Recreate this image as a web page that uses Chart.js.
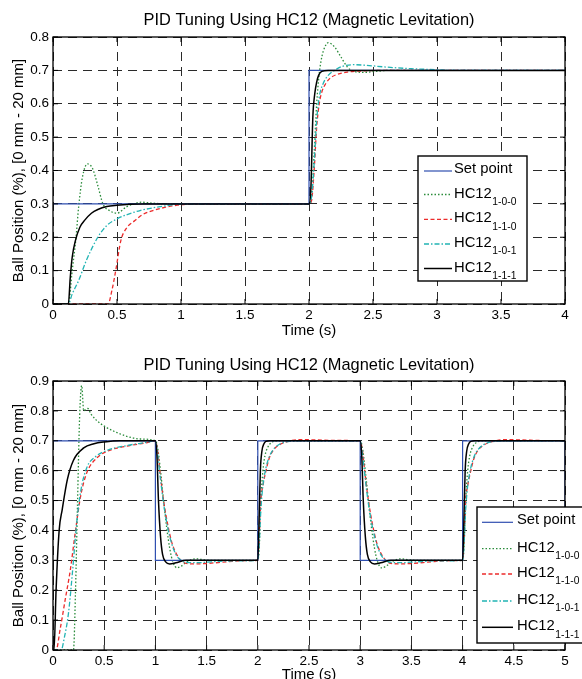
<!DOCTYPE html>
<html>
<head>
<meta charset="utf-8">
<script src="https://cdn.jsdelivr.net/npm/chart.js@4.4.0/dist/chart.umd.min.js"></script>
<style>
  html, body { margin: 0; padding: 0; background: #fff; overflow: hidden; }
  .panel { position: absolute; left: 0; width: 582px; }
  #panel-top { top: 0; height: 340px; }
  #panel-bot { top: 340px; height: 349px; }
</style>
</head>
<body>
<div class="panel" id="panel-top"><canvas id="chart-top" width="582" height="340"></canvas></div>
<div class="panel" id="panel-bot"><canvas id="chart-bot" width="582" height="349"></canvas></div>
<script>
// ---- text ----
const CHART_TITLE = 'PID Tuning Using HC12 (Magnetic Levitation)';
const X_TITLE = 'Time (s)';
const Y_TITLE = 'Ball Position (%), [0 mm - 20 mm]';
const seriesNames = ['Set point', 'HC12', 'HC12', 'HC12', 'HC12'];
const seriesSubs = ['', '1-0-0', '1-1-0', '1-0-1', '1-1-1'];

// ---- ticks ----
const xTicksTop = [0, 0.5, 1, 1.5, 2, 2.5, 3, 3.5, 4];
const yTicksTop = [0, 0.1, 0.2, 0.3, 0.4, 0.5, 0.6, 0.7, 0.8];
const xTicksBot = [0, 0.5, 1, 1.5, 2, 2.5, 3, 3.5, 4, 4.5, 5];
const yTicksBot = [0, 0.1, 0.2, 0.3, 0.4, 0.5, 0.6, 0.7, 0.8, 0.9];

// ---- top chart data (single step 0.3 -> 0.7) ----
const topSetT = [0, 2, 2, 4];
const topSetY = [0.3, 0.3, 0.7, 0.7];
const topT100 = [0, 0.12, 0.15, 0.18, 0.2, 0.23, 0.27, 0.31, 0.35, 0.39, 0.44, 0.5, 0.57, 0.63, 0.69, 0.78, 0.9,
  2, 2.02, 2.04, 2.06, 2.08, 2.1, 2.13, 2.15, 2.2, 2.25, 2.3, 2.35, 2.43, 2.52, 2.62, 4];
const topY100 = [0, 0, 0.1, 0.2, 0.29, 0.38, 0.42, 0.405, 0.355, 0.3, 0.28, 0.272, 0.29, 0.3, 0.305, 0.302, 0.3,
  0.3, 0.32, 0.45, 0.6, 0.69, 0.74, 0.775, 0.783, 0.77, 0.74, 0.71, 0.697, 0.694, 0.697, 0.7, 0.7];
const topT110 = [0, 0.43, 0.46, 0.49, 0.53, 0.57, 0.64, 0.7, 0.78, 0.88, 0.97, 1.05, 1.1,
  2, 2.02, 2.04, 2.06, 2.08, 2.1, 2.13, 2.17, 2.22, 2.3, 2.4, 2.55, 4];
const topY110 = [0, 0, 0.04, 0.1, 0.19, 0.225, 0.25, 0.268, 0.28, 0.29, 0.296, 0.299, 0.3,
  0.3, 0.31, 0.4, 0.53, 0.6, 0.635, 0.66, 0.678, 0.688, 0.695, 0.698, 0.7, 0.7];
const topT101 = [0, 0.12, 0.15, 0.2, 0.26, 0.35, 0.42, 0.5, 0.58, 0.68, 0.78, 0.88, 1.0,
  2, 2.02, 2.04, 2.06, 2.08, 2.11, 2.15, 2.2, 2.26, 2.35, 2.45, 2.6, 2.8, 3.0, 3.1, 4];
const topY101 = [0, 0, 0.03, 0.07, 0.13, 0.2, 0.235, 0.255, 0.268, 0.28, 0.288, 0.294, 0.3,
  0.3, 0.32, 0.42, 0.55, 0.62, 0.66, 0.685, 0.7, 0.712, 0.717, 0.715, 0.71, 0.705, 0.702, 0.7, 0.7];
const topT111 = [0, 0.12, 0.135, 0.15, 0.175, 0.21, 0.25, 0.3, 0.35, 0.42, 0.5, 0.6, 0.7,
  2, 2.015, 2.03, 2.045, 2.06, 2.075, 2.1, 2.15, 4];
const topY111 = [0, 0, 0.08, 0.14, 0.19, 0.23, 0.252, 0.272, 0.283, 0.292, 0.296, 0.299, 0.3,
  0.3, 0.35, 0.56, 0.63, 0.665, 0.685, 0.697, 0.7, 0.7];

// ---- bottom chart data (square wave 0.7 / 0.3) ----
const botSetT = [0, 1, 1, 2, 2, 3, 3, 4, 4, 5, 5];
const botSetY = [0.7, 0.7, 0.3, 0.3, 0.7, 0.7, 0.3, 0.3, 0.7, 0.7, 0.3];
const botT100 = [0, 0.2, 0.22, 0.24, 0.26, 0.28, 0.3, 0.32, 0.34, 0.37, 0.42, 0.52, 0.62, 0.72, 0.85, 1.0,
  1.02, 1.05, 1.08, 1.11, 1.14, 1.17, 1.21, 1.25, 1.3, 1.35, 1.4, 1.47, 1.55, 2.0,
  2.015, 2.03, 2.05, 2.07, 2.1, 2.13, 2.17, 2.22, 3.0,
  3.02, 3.05, 3.08, 3.11, 3.14, 3.17, 3.21, 3.25, 3.3, 3.35, 3.4, 3.47, 3.55, 4.0,
  4.015, 4.03, 4.05, 4.07, 4.1, 4.13, 4.17, 4.22, 5.0];
const botY100 = [0, 0, 0.2, 0.5, 0.78, 0.885, 0.8, 0.805, 0.808, 0.79, 0.77, 0.745, 0.728, 0.715, 0.706, 0.7,
  0.68, 0.6, 0.5, 0.41, 0.34, 0.295, 0.275, 0.28, 0.293, 0.302, 0.305, 0.302, 0.3, 0.3,
  0.35, 0.5, 0.6, 0.65, 0.68, 0.693, 0.699, 0.7, 0.7,
  0.68, 0.6, 0.5, 0.41, 0.34, 0.295, 0.275, 0.28, 0.293, 0.302, 0.305, 0.302, 0.3, 0.3,
  0.35, 0.5, 0.6, 0.65, 0.68, 0.693, 0.699, 0.7, 0.7];
const botT110 = [0, 0.03, 0.07, 0.12, 0.17, 0.22, 0.27, 0.33, 0.43, 0.56, 0.72, 0.92, 1.0,
  1.02, 1.05, 1.08, 1.12, 1.16, 1.2, 1.25, 1.3, 1.4, 1.52, 1.7, 1.9, 2.0,
  2.01, 2.03, 2.05, 2.08, 2.11, 2.15, 2.2, 2.25, 2.32, 2.4, 2.55, 2.75, 3.0,
  3.02, 3.05, 3.08, 3.12, 3.16, 3.2, 3.25, 3.3, 3.4, 3.52, 3.7, 3.9, 4.0,
  4.01, 4.03, 4.05, 4.08, 4.11, 4.15, 4.2, 4.25, 4.32, 4.4, 4.55, 4.75, 5.0];
const botY110 = [0, 0, 0.07, 0.17, 0.27, 0.4, 0.515, 0.593, 0.643, 0.669, 0.682, 0.694, 0.7,
  0.67, 0.58, 0.5, 0.42, 0.36, 0.325, 0.3, 0.29, 0.288, 0.29, 0.295, 0.299, 0.3,
  0.35, 0.5, 0.55, 0.6, 0.64, 0.668, 0.684, 0.693, 0.7, 0.704, 0.703, 0.701, 0.7,
  0.67, 0.58, 0.5, 0.42, 0.36, 0.325, 0.3, 0.29, 0.288, 0.29, 0.295, 0.299, 0.3,
  0.35, 0.5, 0.55, 0.6, 0.64, 0.668, 0.684, 0.693, 0.7, 0.704, 0.703, 0.701, 0.7];
const botT101 = [0, 0.08, 0.11, 0.15, 0.19, 0.23, 0.27, 0.33, 0.42, 0.52, 0.72, 0.92, 1.0,
  1.02, 1.05, 1.08, 1.12, 1.16, 1.2, 1.25, 1.3, 1.4, 1.55, 1.75, 2.0,
  2.01, 2.03, 2.05, 2.08, 2.11, 2.15, 2.2, 2.25, 2.32, 2.45, 3.0,
  3.02, 3.05, 3.08, 3.12, 3.16, 3.2, 3.25, 3.3, 3.4, 3.55, 3.75, 4.0,
  4.01, 4.03, 4.05, 4.08, 4.11, 4.15, 4.2, 4.25, 4.32, 4.45, 5.0];
const botY101 = [0, 0, 0.04, 0.12, 0.26, 0.42, 0.53, 0.61, 0.648, 0.667, 0.684, 0.695, 0.7,
  0.66, 0.57, 0.49, 0.41, 0.355, 0.32, 0.3, 0.293, 0.292, 0.295, 0.298, 0.3,
  0.33, 0.47, 0.55, 0.61, 0.645, 0.67, 0.686, 0.694, 0.698, 0.7, 0.7,
  0.66, 0.57, 0.49, 0.41, 0.355, 0.32, 0.3, 0.293, 0.292, 0.295, 0.298, 0.3,
  0.33, 0.47, 0.55, 0.61, 0.645, 0.67, 0.686, 0.694, 0.698, 0.7, 0.7];
const botT111 = [0, 0.01, 0.03, 0.06, 0.09, 0.14, 0.2, 0.3, 0.4, 0.5, 0.65, 1.0,
  1.015, 1.03, 1.05, 1.07, 1.1, 1.14, 1.2, 1.3, 2.0,
  2.01, 2.025, 2.04, 2.06, 2.08, 2.12, 3.0,
  3.015, 3.03, 3.05, 3.07, 3.1, 3.14, 3.2, 3.3, 4.0,
  4.01, 4.025, 4.04, 4.06, 4.08, 4.12, 5.0];
const botY111 = [0, 0, 0.2, 0.4, 0.47, 0.57, 0.635, 0.676, 0.69, 0.696, 0.7, 0.7,
  0.65, 0.5, 0.38, 0.32, 0.295, 0.288, 0.292, 0.3, 0.3,
  0.4, 0.6, 0.665, 0.69, 0.698, 0.7, 0.7,
  0.65, 0.5, 0.38, 0.32, 0.295, 0.288, 0.292, 0.3, 0.3,
  0.4, 0.6, 0.665, 0.69, 0.698, 0.7, 0.7];

// ---- styling ----
const FONT = '"Liberation Sans", Arial, Helvetica, sans-serif';
Chart.defaults.font.family = FONT;
Chart.defaults.color = '#000';

const LINE_STYLES = [
  { color: '#2f4fb0', width: 1.2, dash: [], smooth: false, order: 1 },          // set point
  { color: '#2b8c3b', width: 1.3, dash: [1.5, 2], smooth: true, order: 4 },     // 1-0-0 dotted
  { color: '#ec2b2b', width: 1.3, dash: [4, 2.5], smooth: true, order: 3 },     // 1-1-0 dashed
  { color: '#22b4b4', width: 1.3, dash: [5, 2, 1.5, 2], smooth: true, order: 2 }, // 1-0-1 dash-dot
  { color: '#000000', width: 1.5, dash: [], smooth: true, order: 0 }            // 1-1-1 solid
];

const TICK_STYLE = { color: '#000', font: { size: 13.5 }, maxRotation: 0, autoSkip: false, callback: v => String(v) };
const GRID_STYLE = { color: '#2a2a2a', lineWidth: 1, drawTicks: false };
const BORDER_STYLE = { display: false, dash: [9, 6] };

function pairs(t, y) {
  return t.map((x, i) => ({ x, y: y[i] }));
}

function buildDatasets(series) {
  return series.map(([t, y], i) => {
    const s = LINE_STYLES[i];
    return {
      label: seriesNames[i] + seriesSubs[i],
      data: pairs(t, y),
      borderColor: s.color,
      borderWidth: s.width,
      borderDash: s.dash,
      pointRadius: 0,
      fill: false,
      order: s.order,
      tension: 0,
      cubicInterpolationMode: s.smooth ? 'monotone' : 'default'
    };
  });
}

// title, axes box with inward ticks, and a MATLAB-style legend with subscripts
const figurePlugin = {
  id: 'figure',
  afterDraw(chart, args, opts) {
    const { ctx, chartArea: a, scales } = chart;
    ctx.save();
    ctx.setLineDash([]);
    ctx.strokeStyle = '#000';
    ctx.lineWidth = 1;
    ctx.beginPath();
    scales.x.ticks.forEach(t => {
      const px = scales.x.getPixelForValue(t.value);
      ctx.moveTo(px, a.bottom); ctx.lineTo(px, a.bottom - 5);
      ctx.moveTo(px, a.top); ctx.lineTo(px, a.top + 5);
    });
    scales.y.ticks.forEach(t => {
      const py = scales.y.getPixelForValue(t.value);
      ctx.moveTo(a.left, py); ctx.lineTo(a.left + 5, py);
      ctx.moveTo(a.right, py); ctx.lineTo(a.right - 5, py);
    });
    ctx.stroke();
    ctx.lineWidth = 1.3;
    ctx.strokeRect(a.left, a.top, a.right - a.left, a.bottom - a.top);

    ctx.fillStyle = '#000';
    ctx.font = '16.4px ' + FONT;
    ctx.textAlign = 'center';
    ctx.textBaseline = 'middle';
    ctx.fillText(opts.title, (a.left + a.right) / 2, opts.titleY);

    const L = opts.legend;
    ctx.fillStyle = '#fff';
    ctx.fillRect(L.x, L.y, L.w, L.h);
    ctx.strokeStyle = '#000';
    ctx.lineWidth = 1.4;
    ctx.strokeRect(L.x, L.y, L.w, L.h);
    ctx.textAlign = 'left';
    chart.data.datasets.forEach((ds, i) => {
      const y = L.rows[i];
      ctx.strokeStyle = ds.borderColor;
      ctx.lineWidth = ds.borderWidth;
      ctx.setLineDash(ds.borderDash);
      ctx.beginPath();
      ctx.moveTo(L.lineX0, y);
      ctx.lineTo(L.lineX1, y);
      ctx.stroke();
      ctx.setLineDash([]);
      ctx.fillStyle = '#000';
      ctx.font = '14.8px ' + FONT;
      if (seriesSubs[i]) {
        ctx.fillText(seriesNames[i], L.textX, y - 1);
        const w = ctx.measureText(seriesNames[i]).width;
        ctx.font = '10.3px ' + FONT;
        ctx.fillText(seriesSubs[i], L.textX + w + 0.5, y + 7.5);
      } else {
        ctx.fillText(seriesNames[i], L.textX, y - 2);
      }
    });
    ctx.restore();
  }
};

function renderPanel(canvasId, p) {
  const ctx = document.getElementById(canvasId).getContext('2d');
  return new Chart(ctx, {
    type: 'line',
    data: { datasets: buildDatasets(p.series) },
    options: {
      responsive: false,
      animation: false,
      devicePixelRatio: 1,
      layout: { padding: { top: p.padTop, right: 17, left: 0, bottom: 0 } },
      plugins: {
        legend: { display: false },
        tooltip: { enabled: false },
        title: { display: false },
        figure: { title: CHART_TITLE, titleY: p.titleY, legend: p.legend }
      },
      scales: {
        x: {
          type: 'linear',
          min: p.xTicks[0],
          max: p.xTicks[p.xTicks.length - 1],
          afterBuildTicks: s => { s.ticks = p.xTicks.map(v => ({ value: v })); },
          afterFit: s => { s.height = p.xAxisHeight; },
          ticks: { ...TICK_STYLE, padding: 3 },
          grid: GRID_STYLE,
          border: BORDER_STYLE,
          title: { display: true, text: X_TITLE, color: '#000', font: { size: 15 }, padding: { top: 0, bottom: p.xTitlePad } }
        },
        y: {
          type: 'linear',
          min: p.yTicks[0],
          max: p.yTicks[p.yTicks.length - 1],
          afterBuildTicks: s => { s.ticks = p.yTicks.map(v => ({ value: v })); },
          afterFit: s => { s.width = 53; },
          ticks: { ...TICK_STYLE, padding: 4 },
          grid: GRID_STYLE,
          border: BORDER_STYLE,
          title: { display: true, text: Y_TITLE, color: '#000', font: { size: 15 }, padding: { top: 10, bottom: 0 } }
        }
      }
    },
    plugins: [figurePlugin]
  });
}

renderPanel('chart-top', {
  series: [[topSetT, topSetY], [topT100, topY100], [topT110, topY110], [topT101, topY101], [topT111, topY111]],
  xTicks: xTicksTop, yTicks: yTicksTop,
  padTop: 37, xAxisHeight: 36, xTitlePad: 0, titleY: 20,
  legend: { x: 418, y: 156, w: 109, h: 125, rows: [171, 194.5, 219.3, 244, 268.5], lineX0: 424, lineX1: 452, textX: 454 }
});

renderPanel('chart-bot', {
  series: [[botSetT, botSetY], [botT100, botY100], [botT110, botY110], [botT101, botY101], [botT111, botY111]],
  xTicks: xTicksBot, yTicks: yTicksBot,
  padTop: 41, xAxisHeight: 39, xTitlePad: 5, titleY: 25.5,
  legend: { x: 477, y: 167, w: 120, h: 136, rows: [182.3, 208.7, 234, 261, 287.3], lineX0: 482, lineX1: 513, textX: 517 }
});
</script>
</body>
</html>
